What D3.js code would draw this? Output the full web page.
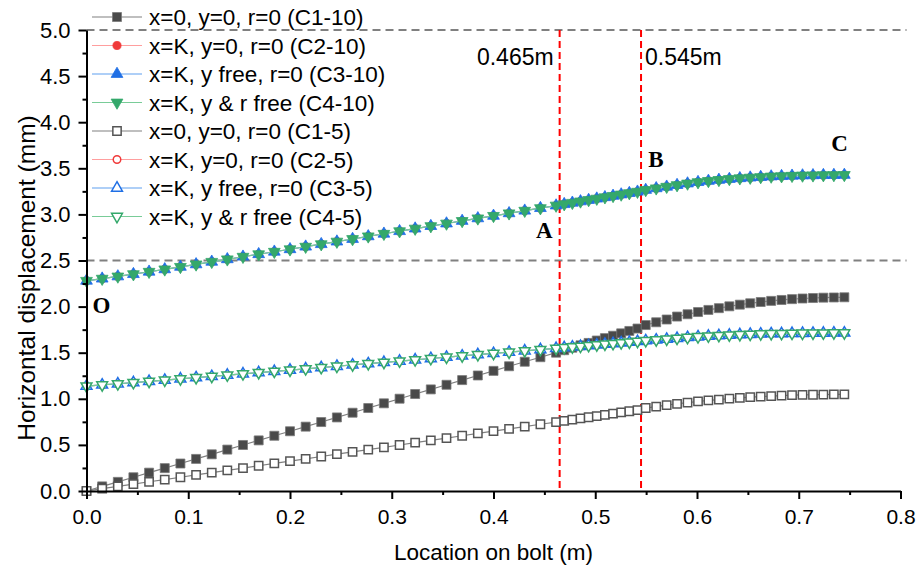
<!DOCTYPE html>
<html>
<head>
<meta charset="utf-8">
<script src="https://cdn.jsdelivr.net/npm/d3@7"></script>
<style>
  html, body { margin: 0; padding: 0; background: #fff; }
  svg { display: block; }
</style>
</head>
<body>
<svg id="chart" width="919" height="575"></svg>
<script>
// Location along the bolt (m): coarse mesh up to ~0.46 m, fine mesh to ~0.54 m, then medium mesh
const xLoc = [
  0.0000, 0.0154, 0.0308, 0.0461, 0.0615, 0.0769, 0.0923, 0.1077, 0.1231, 0.1384,
  0.1538, 0.1692, 0.1846, 0.2000, 0.2154, 0.2307, 0.2461, 0.2615, 0.2769, 0.2923,
  0.3077, 0.3230, 0.3384, 0.3538, 0.3692, 0.3846, 0.4000, 0.4153, 0.4307, 0.4461,
  0.4615,
  0.4695, 0.4775, 0.4855, 0.4935, 0.5015, 0.5095, 0.5175, 0.5255, 0.5335, 0.5415,
  0.5496, 0.5599, 0.5702, 0.5804, 0.5907, 0.6010, 0.6112, 0.6215, 0.6318, 0.6421,
  0.6523, 0.6626, 0.6729, 0.6831, 0.6934, 0.7037, 0.7140, 0.7242, 0.7345, 0.7448
];

// Horizontal displacement (mm), 10 mm load cases
const c1_10 = [
  0.000, 0.050, 0.099, 0.149, 0.199, 0.248, 0.298, 0.348, 0.398, 0.449,
  0.499, 0.549, 0.599, 0.648, 0.698, 0.748, 0.798, 0.849, 0.900, 0.951,
  1.001, 1.052, 1.102, 1.152, 1.203, 1.253, 1.303, 1.353, 1.402, 1.451,
  1.500,
  1.527, 1.554, 1.580, 1.606, 1.632, 1.658, 1.684, 1.710, 1.736, 1.762,
  1.800, 1.830, 1.860, 1.892, 1.917, 1.941, 1.964, 1.983, 2.003, 2.021,
  2.036, 2.050, 2.062, 2.072, 2.081, 2.088, 2.093, 2.097, 2.099, 2.101
];
// C2-10, C3-10 and C4-10 coincide at this scale
const cK_10 = [
  2.280, 2.303, 2.327, 2.352, 2.378, 2.404, 2.431, 2.458, 2.486, 2.513,
  2.541, 2.568, 2.595, 2.622, 2.650, 2.677, 2.705, 2.733, 2.762, 2.790,
  2.818, 2.846, 2.873, 2.901, 2.929, 2.957, 2.984, 3.012, 3.040, 3.068,
  3.096,
  3.111, 3.126, 3.141, 3.156, 3.171, 3.186, 3.201, 3.216, 3.231, 3.246,
  3.265, 3.283, 3.300, 3.318, 3.335, 3.350, 3.363, 3.374, 3.384, 3.392,
  3.399, 3.405, 3.411, 3.415, 3.419, 3.422, 3.424, 3.426, 3.427, 3.428
];

// Horizontal displacement (mm), 5 mm load cases
const c1_5 = [
  0.000, 0.025, 0.050, 0.075, 0.100, 0.124, 0.149, 0.174, 0.199, 0.224,
  0.249, 0.274, 0.299, 0.324, 0.349, 0.374, 0.399, 0.424, 0.449, 0.474,
  0.499, 0.524, 0.549, 0.574, 0.599, 0.624, 0.649, 0.674, 0.699, 0.724,
  0.748,
  0.761, 0.774, 0.787, 0.800, 0.813, 0.826, 0.839, 0.852, 0.865, 0.878,
  0.900, 0.916, 0.931, 0.946, 0.959, 0.971, 0.982, 0.992, 1.001, 1.010,
  1.018, 1.024, 1.030, 1.035, 1.039, 1.042, 1.044, 1.046, 1.047, 1.048
];
// C2-5, C3-5 and C4-5 coincide at this scale
const cK_5 = [
  1.138, 1.150, 1.163, 1.176, 1.189, 1.202, 1.216, 1.229, 1.243, 1.257,
  1.271, 1.284, 1.298, 1.311, 1.325, 1.339, 1.353, 1.367, 1.381, 1.395,
  1.409, 1.423, 1.437, 1.451, 1.465, 1.479, 1.492, 1.506, 1.520, 1.534,
  1.547,
  1.555, 1.562, 1.569, 1.577, 1.584, 1.592, 1.599, 1.607, 1.614, 1.622,
  1.630, 1.638, 1.647, 1.656, 1.665, 1.673, 1.680, 1.686, 1.691, 1.696,
  1.700, 1.703, 1.706, 1.708, 1.710, 1.711, 1.712, 1.713, 1.714, 1.714
];

const seriesNames = [
  "x=0, y=0, r=0 (C1-10)",
  "x=K, y=0, r=0 (C2-10)",
  "x=K, y free, r=0 (C3-10)",
  "x=K, y & r free (C4-10)",
  "x=0, y=0, r=0 (C1-5)",
  "x=K, y=0, r=0 (C2-5)",
  "x=K, y free, r=0 (C3-5)",
  "x=K, y & r free (C4-5)"
];
const seriesValues = [c1_10, cK_10, cK_10, cK_10, c1_5, cK_5, cK_5, cK_5];

const xTicks = [0, 0.1, 0.2, 0.3, 0.4, 0.5, 0.6, 0.7, 0.8];
const xMinorTicks = [0.05, 0.15, 0.25, 0.35, 0.45, 0.55, 0.65, 0.75];
const yTicks = [0, 0.5, 1.0, 1.5, 2.0, 2.5, 3.0, 3.5, 4.0, 4.5, 5.0];
const yMinorTicks = [0.25, 0.75, 1.25, 1.75, 2.25, 2.75, 3.25, 3.75, 4.25, 4.75];
const levelLines = [2.5, 5.0];
const sectionBounds = [0.465, 0.545];
const sectionLabels = ["0.465m", "0.545m"];

// ---- styling ----
const styles = [
  { shape: "square",   line: "#808080", fill: "#4a4a4a", stroke: "#7a7a7a" },
  { shape: "circle",   line: "#ff9e9e", fill: "#f03a3a", stroke: "#f03a3a" },
  { shape: "triUp",    line: "#5e9ff0", fill: "#1f6fe5", stroke: "#1f6fe5" },
  { shape: "triDown",  line: "#79cc98", fill: "#34a86b", stroke: "#34a86b" },
  { shape: "square",   line: "#808080", fill: "#ffffff", stroke: "#555555" },
  { shape: "circle",   line: "#ff9e9e", fill: "#ffffff", stroke: "#f03a3a" },
  { shape: "triUp",    line: "#5e9ff0", fill: "#ffffff", stroke: "#1f6fe5" },
  { shape: "triDown",  line: "#79cc98", fill: "#ffffff", stroke: "#34a86b" }
];

const sansFont = "'Liberation Sans', Arial, sans-serif";
const serifFont = "'Liberation Serif', 'Times New Roman', serif";

const svg = d3.select("#chart");
svg.append("rect").attr("width", 919).attr("height", 575).attr("fill", "#fff");

const x = d3.scaleLinear().domain([0, 0.8]).range([86.5, 900.5]);
const y = d3.scaleLinear().domain([0, 5]).range([491, 30]);

// grey dashed reference levels
svg.append("g").selectAll("line").data(levelLines).join("line")
  .attr("x1", x(0)).attr("x2", x(0.8) + 6)
  .attr("y1", d => y(d)).attr("y2", d => y(d))
  .attr("stroke", "#808080").attr("stroke-width", 2)
  .attr("stroke-dasharray", "8,5");

// red dashed section boundaries
svg.append("g").selectAll("line").data(sectionBounds).join("line")
  .attr("x1", d => x(d)).attr("x2", d => x(d))
  .attr("y1", y(5)).attr("y2", y(0))
  .attr("stroke", "#ff0000").attr("stroke-width", 2)
  .attr("stroke-dasharray", "7,4");

// symbol helper
function symbolPath(shape, scale) {
  const s = scale || 1;
  if (shape === "square") return d3.symbol(d3.symbolSquare, 81 * s)();
  if (shape === "circle") return d3.symbol(d3.symbolCircle, 52 * s)();
  return d3.symbol(d3.symbolTriangle, 60 * s)();
}
function symbolTransform(shape, px, py) {
  return shape === "triDown"
    ? `translate(${px},${py}) rotate(180)`
    : `translate(${px},${py})`;
}

const lineGen = d3.line().x(d => x(d[0])).y(d => y(d[1]));

const plot = svg.append("g");
seriesValues.forEach((vals, i) => {
  const st = styles[i];
  const pts = xLoc.map((xv, k) => [xv, vals[k]]);
  const g = plot.append("g");
  g.append("path").datum(pts)
    .attr("d", lineGen)
    .attr("fill", "none")
    .attr("stroke", st.line)
    .attr("stroke-width", 1.2);
  const open = st.fill === "#ffffff";
  g.selectAll("path.m").data(pts).join("path")
    .attr("class", "m")
    .attr("d", symbolPath(st.shape, open ? 0.85 : 1))
    .attr("transform", d => symbolTransform(st.shape, x(d[0]), y(d[1])))
    .attr("fill", st.fill)
    .attr("stroke", st.stroke)
    .attr("stroke-width", open ? 1.5 : 0.8);
});

// axes
svg.append("g").attr("transform", `translate(0,${y(0)})`)
  .call(d3.axisBottom(x).tickValues(xTicks).tickFormat(d3.format(".1f"))
    .tickSize(8).tickSizeOuter(0).tickPadding(10));
svg.append("g").attr("transform", `translate(0,${y(0)})`)
  .call(d3.axisBottom(x).tickValues(xMinorTicks).tickFormat("")
    .tickSize(4).tickSizeOuter(0))
  .select(".domain").remove();

svg.append("g").attr("class", "yax").attr("transform", `translate(${x(0)},0)`)
  .call(d3.axisLeft(y).tickValues(yTicks).tickFormat(d3.format(".1f"))
    .tickSize(8).tickSizeOuter(0).tickPadding(8));
svg.append("g").attr("transform", `translate(${x(0)},0)`)
  .call(d3.axisLeft(y).tickValues(yMinorTicks).tickFormat("")
    .tickSize(4).tickSizeOuter(0))
  .select(".domain").remove();

svg.selectAll(".domain").attr("stroke", "#000").attr("stroke-width", 2);
svg.selectAll(".tick line").attr("stroke", "#000").attr("stroke-width", 2);
svg.selectAll(".tick text").attr("font-family", sansFont).attr("font-size", 21).attr("fill", "#000");
svg.selectAll(".yax .tick text").attr("font-size", 22);

// axis titles
svg.append("text")
  .attr("x", (x(0) + x(0.8)) / 2).attr("y", 560)
  .attr("text-anchor", "middle")
  .attr("font-family", sansFont).attr("font-size", 22.5)
  .text("Location on bolt (m)");
svg.append("text")
  .attr("transform", `translate(35,278) rotate(-90)`)
  .attr("text-anchor", "middle")
  .attr("font-family", sansFont).attr("font-size", 24.5)
  .text("Horizontal displacement (mm)");

// section boundary labels
svg.append("text")
  .attr("x", x(sectionBounds[0]) - 6).attr("y", 65)
  .attr("text-anchor", "end")
  .attr("font-family", sansFont).attr("font-size", 23)
  .text(sectionLabels[0]);
svg.append("text")
  .attr("x", x(sectionBounds[1]) + 4).attr("y", 65)
  .attr("text-anchor", "start")
  .attr("font-family", sansFont).attr("font-size", 23)
  .text(sectionLabels[1]);

// point labels O, A, B, C along the upper curve
const pointTags = [
  { t: "O", px: 0.006, py: 1.934, anchor: "start" },
  { t: "A", px: 0.450, py: 2.744, anchor: "middle" },
  { t: "B", px: 0.552, py: 3.514, anchor: "start" },
  { t: "C", px: 0.740, py: 3.688, anchor: "middle" }
];
svg.append("g").selectAll("text").data(pointTags).join("text")
  .attr("x", d => x(d.px)).attr("y", d => y(d.py))
  .attr("text-anchor", d => d.anchor)
  .attr("font-family", serifFont).attr("font-weight", "bold").attr("font-size", 23)
  .text(d => d.t);

// legend
const legend = svg.append("g");
seriesNames.forEach((name, i) => {
  const st = styles[i];
  const ry = 17 + i * 28.5;
  const row = legend.append("g");
  row.append("line")
    .attr("x1", 92).attr("x2", 142).attr("y1", ry).attr("y2", ry)
    .attr("stroke", st.line).attr("stroke-width", 1.2);
  const open = st.fill === "#ffffff";
  row.append("path")
    .attr("d", symbolPath(st.shape, open ? 0.85 : 1))
    .attr("transform", symbolTransform(st.shape, 117, ry))
    .attr("fill", st.fill).attr("stroke", st.stroke)
    .attr("stroke-width", open ? 1.5 : 0.8);
  row.append("text")
    .attr("x", 149).attr("y", ry).attr("dy", "0.36em")
    .attr("font-family", sansFont).attr("font-size", 22.5)
    .text(name);
});
</script>
</body>
</html>
